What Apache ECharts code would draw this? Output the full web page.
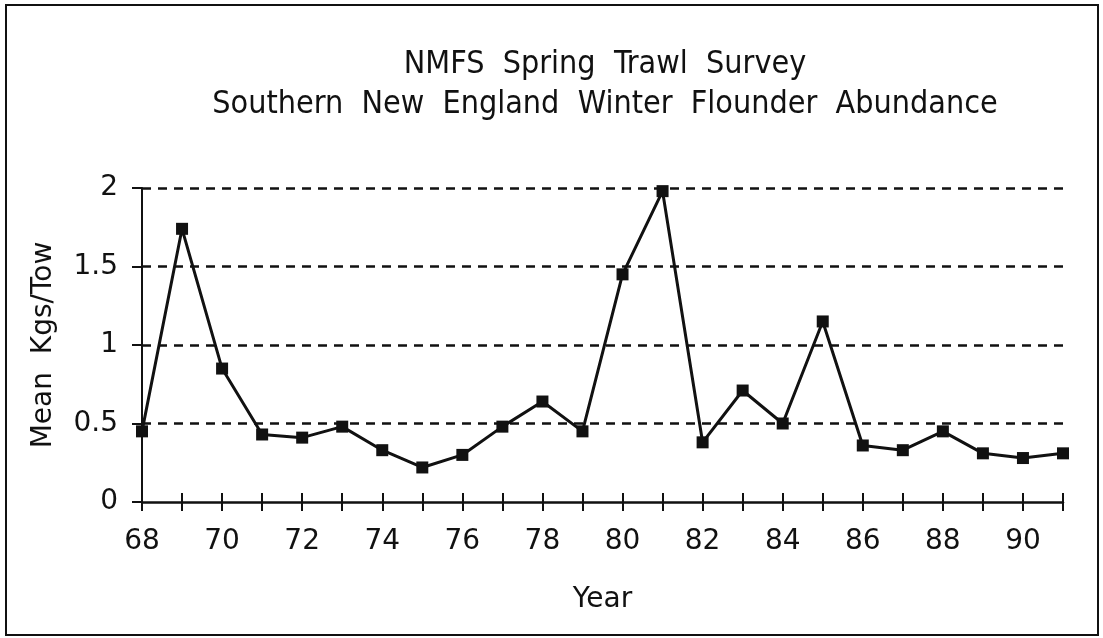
<!DOCTYPE html>
<html>
<head>
<meta charset="utf-8">
<script src="https://cdn.jsdelivr.net/npm/echarts@6/dist/echarts.min.js"></script>
<style>html,body{margin:0;padding:0;background:#fff;}#c{width:1103px;height:638px;}</style>
</head>
<body>
<div id="c"></div>
<script>
const years = ['68','69','70','71','72','73','74','75','76','77','78','79','80','81','82','83','84','85','86','87','88','89','90','91'];
const meanKgsPerTow = [0.45,1.74,0.85,0.43,0.41,0.48,0.33,0.22,0.30,0.48,0.64,0.45,1.45,1.98,0.38,0.71,0.50,1.15,0.36,0.33,0.45,0.31,0.28,0.31];
const titleLines = ['NMFS  Spring  Trawl  Survey', 'Southern  New  England  Winter  Flounder  Abundance'];
const yAxisName = 'Mean  Kgs/Tow';
const xAxisName = 'Year';

const chart = echarts.init(document.getElementById('c'), null, {renderer: 'canvas'});
const axisFont = 'DejaVu Sans';
const titleFont = 'DejaVu Sans Condensed';
chart.setOption({
  animation: false,
  backgroundColor: '#fff',
  graphic: [{
    type: 'rect', shape: {x: 6, y: 5, width: 1092, height: 630},
    style: {fill: 'none', stroke: '#111', lineWidth: 2}, silent: true
  }],
  title: [{
    text: titleLines[0], left: 600, textAlign: 'center', top: 44,
    textStyle: {fontFamily: titleFont, fontSize: 32, fontWeight: 'normal', color: '#111'}
  }, {
    text: titleLines[1], left: 600, textAlign: 'center', top: 84,
    textStyle: {fontFamily: titleFont, fontSize: 32, fontWeight: 'normal', color: '#111'}
  }],
  grid: {left: 142, right: 40, top: 188, bottom: 136, containLabel: false},
  xAxis: [{
    type: 'category', data: years, boundaryGap: false, z: 3,
    name: xAxisName, nameLocation: 'middle', nameGap: 84,
    nameTextStyle: {fontFamily: axisFont, fontSize: 28, color: '#111'},
    axisLine: {lineStyle: {color: '#111', width: 2.5}},
    axisTick: {show: true, interval: 0, length: 9, lineStyle: {color: '#111', width: 2}},
    axisLabel: {interval: 1, fontFamily: axisFont, fontSize: 28, color: '#111', margin: 26},
    splitLine: {show: false}
  }, {
    type: 'category', data: years, boundaryGap: false, position: 'bottom',
    axisLine: {show: false},
    axisTick: {show: true, inside: true, interval: 0, length: 9, lineStyle: {color: '#111', width: 2}},
    axisLabel: {show: false}, splitLine: {show: false}
  }],
  yAxis: {
    type: 'value', min: 0, max: 2, interval: 0.5,
    name: yAxisName, nameLocation: 'middle', nameGap: 84, nameRotate: 90,
    nameTextStyle: {fontFamily: axisFont, fontSize: 28, color: '#111'},
    axisLine: {show: true, lineStyle: {color: '#111', width: 2}},
    axisTick: {show: true, length: 10, lineStyle: {color: '#111', width: 2}},
    axisLabel: {fontFamily: axisFont, fontSize: 28, color: '#111', margin: 24},
    splitLine: {show: true, showMinLine: false, lineStyle: {color: '#111', width: 2.5, type: [9, 7]}}
  },
  series: [{
    type: 'line', xAxisIndex: 0, data: meanKgsPerTow,
    symbol: 'rect', symbolSize: 12,
    lineStyle: {color: '#111', width: 3},
    itemStyle: {color: '#111'}
  }]
});
</script>
</body>
</html>
